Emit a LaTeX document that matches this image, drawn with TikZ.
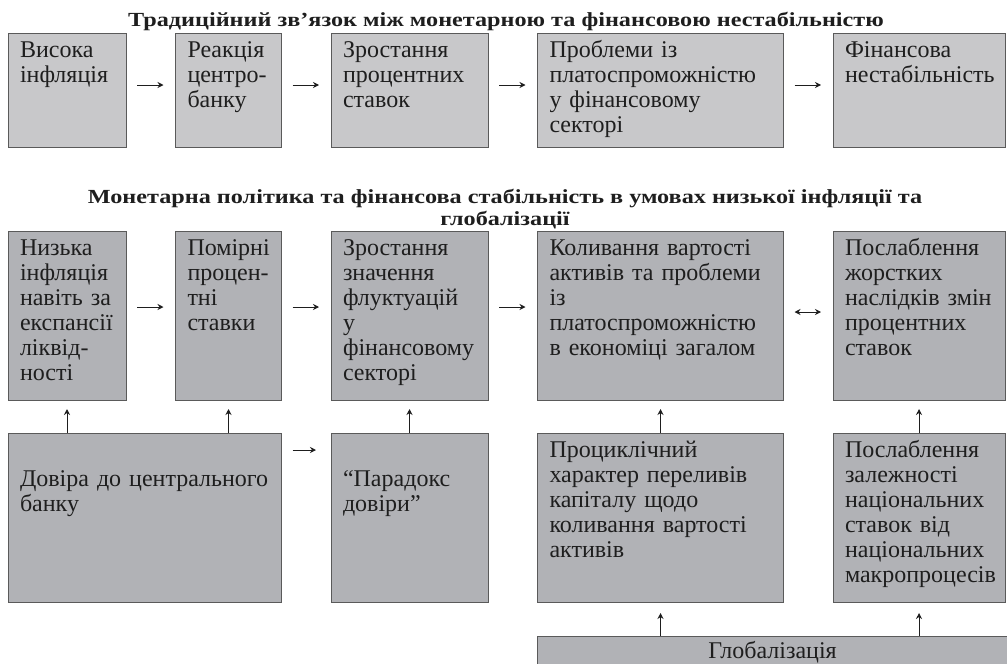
\documentclass[tikz,border=0pt]{standalone}
\usepackage{fontspec}
\setmainfont{Liberation Serif}
\newfontfamily\titlefont[FakeStretch=1.21]{Liberation Serif}
\usepackage{xcolor}
\usetikzlibrary{positioning,arrows.meta}
\definecolor{lightbox}{RGB}{200,200,202}
\definecolor{darkbox}{RGB}{177,178,182}
\definecolor{edgegray}{RGB}{90,90,90}
\definecolor{ink}{RGB}{30,30,30}
\tikzstyle{arrow} = [line width=1pt,->,>={Stealth[length=6pt,width=6pt]},draw=ink,shorten <=11pt,shorten >=12pt]
\tikzstyle{uparrow} = [line width=1pt,->,>={Stealth[length=6pt,width=6pt]},draw=ink,shorten >=9pt]
\hyphenpenalty=10000
\exhyphenpenalty=10000

\begin{document}
\begin{tikzpicture}[x=1pt, y=-1pt, node distance=49.5pt,
    box/.style={draw=edgegray, line width=0.9pt, text=ink, inner xsep=12pt, inner ysep=0pt, outer sep=0pt,
        align=left, font=\fontsize{24}{25}\selectfont, text height=24pt},
    row1/.style={box, fill=lightbox, text depth=90pt},
    row2/.style={box, fill=darkbox, text depth=145pt},
    ttl/.style={font=\titlefont\bfseries\fontsize{20}{22}\selectfont, text=ink, inner sep=0pt, align=center}]

    \useasboundingbox (0,0) rectangle (1007,664);

    % Titles
    \node[ttl, anchor=base] (title1) at (506,26) {Традиційний зв’язок між монетарною та фінансовою нестабільністю};
    \node[ttl, anchor=north] (title2) at (505,189) {Монетарна політика та фінансова стабільність в умовах низької інфляції та\\глобалізації};

    % Traditional chain
    \node[row1, text width=94pt, anchor=north west] (hiinfl) at (8,33) {Висока\\інфляція};
    \node[row1, text width=82pt, right=of hiinfl] (cbreact) {Реакція\\центро-\\банку};
    \node[row1, text width=133pt, right=of cbreact] (raterise) {Зростання\\процентних\\ставок};
    \node[row1, text width=222pt, right=of raterise] (finsolv) {Проблеми із\\платоспроможністю\\у фінансовому\\секторі};
    \node[row1, text width=148pt, right=of finsolv] (instab) {Фінансова\\нестабільність};

    % Low inflation chain
    \node[row2, text width=94pt, anchor=north west] (lowinfl) at (8,231) {Низька\\інфляція\\навіть за\\експансії\\ліквід-\\ності};
    \node[row2, text width=82pt, right=of lowinfl] (modrate) {Помірні\\процен-\\тні\\ставки};
    \node[row2, text width=133pt, right=of modrate] (fluct) {Зростання\\значення\\флуктуацій\\у\\фінансовому\\секторі};
    \node[row2, text width=222pt, right=of fluct] (assetfl) {Коливання вартості\\активів та проблеми\\із\\платоспроможністю\\в економіці загалом};
    \node[row2, text width=148pt, right=of assetfl] (weakhard) {Послаблення\\жорстких\\наслідків змін\\процентних\\ставок};

    % Causes
    \node[row2, text width=249.5pt, text height=53pt, text depth=116pt, anchor=north west] (trust) at (8,433) {Довіра до центрального\\банку};
    \node[row2, text width=133pt, text height=53pt, text depth=116pt, right=of trust] (paradox) {“Парадокс\\довіри”};
    \node[row2, text width=222pt, right=of paradox] (proc) {Проциклічний\\характер переливів\\капіталу щодо\\коливання вартості\\активів};
    \node[row2, text width=148pt, right=of proc] (weakdep) {Послаблення\\залежності\\національних\\ставок від\\національних\\макропроцесів};
    \node[box, fill=darkbox, text width=446pt, align=center, text height=22pt, text depth=20pt, anchor=north west]
        (glob) at ([yshift=-34pt]proc.south west) {Глобалізація};

    % Links
    \draw[arrow] ([yshift=5pt]hiinfl.east) -- ([yshift=5pt]cbreact.west);
    \draw[arrow] ([yshift=5pt]cbreact.east) -- ([yshift=5pt]raterise.west);
    \draw[arrow] ([yshift=5pt]raterise.east) -- ([yshift=5pt]finsolv.west);
    \draw[arrow] ([yshift=5pt]finsolv.east) -- ([yshift=5pt]instab.west);

    \draw[arrow] ([yshift=8.5pt]lowinfl.east) -- ([yshift=8.5pt]modrate.west);
    \draw[arrow] ([yshift=8.5pt]modrate.east) -- ([yshift=8.5pt]fluct.west);
    \draw[arrow] ([yshift=8.5pt]fluct.east) -- ([yshift=8.5pt]assetfl.west);
    \draw[arrow, <->] ([yshift=3.5pt]assetfl.east) -- ([yshift=3.5pt]weakhard.west);

    \draw[arrow, shorten >=15pt] ([yshift=-17pt]trust.north east) -- ([yshift=-17pt]paradox.north west);

    \draw[uparrow] (trust.north -| lowinfl.south) -- (lowinfl.south);
    \draw[uparrow] (trust.north -| modrate.south) -- (modrate.south);
    \draw[uparrow] (paradox.north) -- (fluct.south);
    \draw[uparrow] (proc.north) -- (assetfl.south);
    \draw[uparrow] (weakdep.north) -- (weakhard.south);
    \draw[uparrow, shorten >=11pt] (glob.north -| proc.south) -- (proc.south);
    \draw[uparrow, shorten >=11pt] (glob.north -| weakdep.south) -- (weakdep.south);
\end{tikzpicture}
\end{document}
